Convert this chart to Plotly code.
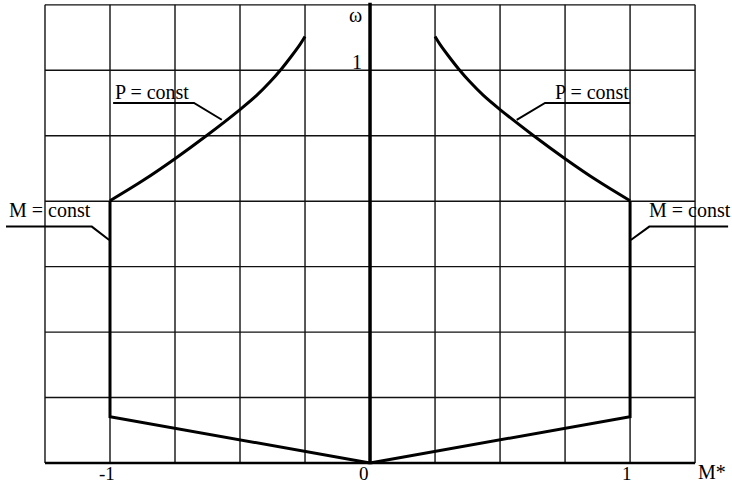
import plotly.graph_objects as go

# right-hand branch of the characteristic (left branch is its mirror)
m_curve = [1.0, 0.872, 0.75, 0.628, 0.5, 0.436, 0.385, 0.34, 0.301, 0.269, 0.25]
w_curve = [0.668, 0.720, 0.775, 0.834, 0.900, 0.936, 0.970, 1.004, 1.037, 1.066, 1.086]
m_limit = [0.0, 1.0, 1.0]
w_limit = [0.0, 0.118, 0.667]

grid_m = [-1.25, -1.0, -0.75, -0.5, -0.25, 0.0, 0.25, 0.5, 0.75, 1.0, 1.25]
grid_w = [0, 1/6, 2/6, 3/6, 4/6, 5/6, 1.0, 7/6]

x_ticks = [-1, 0, 1]
x_tick_text = ["-1", "0", "1"]

FONT = dict(family="Liberation Serif, Times New Roman, serif", size=20, color="black")

fig = go.Figure()

# grid
gx, gy = [], []
for m in grid_m:
    gx += [m, m, None]
    gy += [grid_w[0], grid_w[-1], None]
for w in grid_w:
    gx += [grid_m[0], grid_m[-1], None]
    gy += [w, w, None]
fig.add_trace(go.Scatter(x=gx, y=gy, mode="lines", line=dict(color="#111111", width=1.4)))

# axes
fig.add_trace(go.Scatter(x=[0, 0], y=[0, 1.172], mode="lines", line=dict(color="black", width=3.5)))
fig.add_trace(go.Scatter(x=[grid_m[0], grid_m[-1]], y=[0, 0], mode="lines", line=dict(color="black", width=2.5)))

# characteristic, both sides
for s in (1, -1):
    fig.add_trace(go.Scatter(x=[s * m for m in m_limit], y=w_limit, mode="lines",
                             line=dict(color="black", width=3)))
    fig.add_trace(go.Scatter(x=[s * m for m in m_curve], y=w_curve, mode="lines",
                             line=dict(color="black", width=3, shape="spline", smoothing=1.0)))

# leader lines for the labels
leaders = [
    ([-0.988, -0.677, -0.570], [0.917, 0.917, 0.874]),
    ([1.0, 0.673, 0.564], [0.917, 0.917, 0.874]),
    ([-1.40, -1.070, -1.003], [0.602, 0.602, 0.568]),
    ([1.377, 1.074, 1.003], [0.602, 0.602, 0.568]),
]
for lx, ly in leaders:
    fig.add_trace(go.Scatter(x=lx, y=ly, mode="lines", line=dict(color="black", width=2)))

notes = [
    (-0.988, 0.945, "P = const", "left"),
    (0.704, 0.945, "P = const", "left"),
    (-1.396, 0.644, "M = const", "left"),
    (1.064, 0.644, "M = const", "left"),
    (-0.025, 1.141, "ω", "right"),
    (-0.022, 1.021, "1", "right"),
    (1.255, -0.022, "M*", "left"),
]
for x, y, t, anc in notes:
    fig.add_annotation(x=x, y=y, text=t, showarrow=False, xanchor=anc, yanchor="middle", font=FONT)

for v, t in zip(x_ticks, x_tick_text):
    fig.add_annotation(x=v - 0.025 if v == 0 else v - 0.01, y=-0.026, text=t, showarrow=False,
                       xanchor="center", yanchor="middle", font=dict(FONT, size=19))

fig.update_layout(
    width=732, height=484,
    margin=dict(l=0, r=0, t=0, b=0),
    paper_bgcolor="white", plot_bgcolor="white",
    showlegend=False,
    xaxis=dict(range=[-1.423, 1.392], visible=False, fixedrange=True),
    yaxis=dict(range=[-0.0535, 1.179], visible=False, fixedrange=True),
)

fig.write_html("out.html", config={"displayModeBar": False},
               post_script="document.body.style.margin = '0';")
